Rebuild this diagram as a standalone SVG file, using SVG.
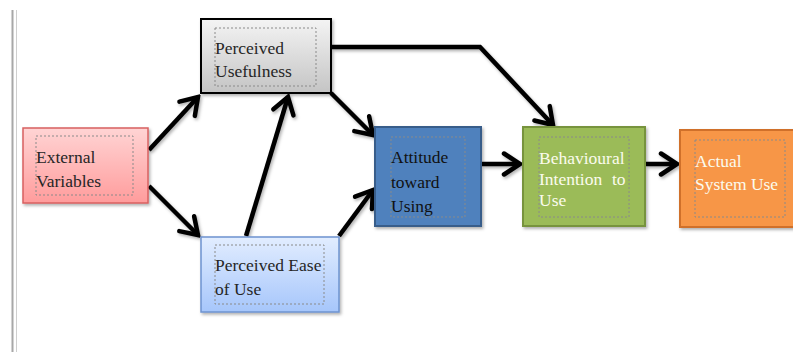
<svg xmlns="http://www.w3.org/2000/svg" width="793" height="352" viewBox="0 0 793 352">
<style>
.t{font-family:"Liberation Serif","Times New Roman",serif;font-size:17.5px;fill:#262626}
.w{fill:#fbfbee}
.in{fill:none;stroke:#8a8a8a;stroke-width:1;stroke-dasharray:2,2}
.c{fill:none;stroke:#000;stroke-width:4.5;stroke-linejoin:miter;marker-end:url(#ah)}
</style>
<defs>
<linearGradient id="gPU" x1="0" y1="0" x2="0" y2="1"><stop offset="0" stop-color="#f4f4f4"/><stop offset="1" stop-color="#c4c4c4"/></linearGradient>
<linearGradient id="gEV" x1="0" y1="0" x2="0" y2="1"><stop offset="0" stop-color="#ffd4d4"/><stop offset="1" stop-color="#ff9c9c"/></linearGradient>
<linearGradient id="gPE" x1="0" y1="0" x2="0" y2="1"><stop offset="0" stop-color="#e2edff"/><stop offset="1" stop-color="#a6c6fb"/></linearGradient>
<filter id="sh" x="-10%" y="-10%" width="130%" height="130%"><feDropShadow dx="1.5" dy="2" stdDeviation="1.5" flood-color="#000" flood-opacity="0.3"/></filter>
<marker id="ah" viewBox="0 0 22 26" refX="19" refY="13" markerWidth="22" markerHeight="26" markerUnits="userSpaceOnUse" orient="auto"><path d="M3,2.5 L19,13 L3,23.5" fill="none" stroke="#000" stroke-width="4.5" stroke-linecap="round" stroke-linejoin="miter"/></marker>
</defs>
<rect width="793" height="352" fill="#fff"/>
<line x1="12.5" y1="10" x2="12.5" y2="352" stroke="#a8a8a8" stroke-width="2"/>
<line x1="16.5" y1="10" x2="16.5" y2="352" stroke="#cfcfcf" stroke-width="1"/>

<g id="connectors" filter="url(#sh)">
<path class="c" d="M149,150 L198,97"/>
<path class="c" d="M149,186 L198,235"/>
<path class="c" d="M246,236 L288,97"/>
<path class="c" d="M331,93 L373,135"/>
<path class="c" d="M339,236 L373,190"/>
<path class="c" d="M332,47 L480,47 L553,125"/>
<path class="c" d="M482,164 L520,164"/>
<path class="c" d="M646,164 L677,164"/>
</g>

<g id="external-variables">
<rect x="23" y="128" width="125" height="75" fill="url(#gEV)" stroke="#d86060" stroke-width="1.5" filter="url(#sh)"/>
<rect class="in" x="36" y="136" width="97" height="59"/>
<text class="t" x="36" y="163">External</text>
<text class="t" x="36" y="187">Variables</text>
</g>

<g id="perceived-usefulness">
<rect x="201" y="19" width="130" height="74" fill="url(#gPU)" stroke="#000" stroke-width="2" filter="url(#sh)"/>
<rect class="in" x="215" y="28" width="101" height="58"/>
<text class="t" x="215" y="54">Perceived</text>
<text class="t" x="215" y="77">Usefulness</text>
</g>

<g id="perceived-ease-of-use">
<rect x="201" y="237" width="138" height="75" fill="url(#gPE)" stroke="#6d93cf" stroke-width="1.5" filter="url(#sh)"/>
<rect class="in" x="215" y="245" width="109" height="59"/>
<text class="t" x="215" y="271">Perceived Ease</text>
<text class="t" x="215" y="295">of Use</text>
</g>

<g id="attitude-toward-using">
<rect x="375" y="127" width="106" height="99" fill="#4f81bd" stroke="#385d8a" stroke-width="2" filter="url(#sh)"/>
<rect class="in" x="391" y="137" width="74" height="80"/>
<text class="t" x="391" y="163" style="fill:#111">Attitude</text>
<text class="t" x="391" y="188" style="fill:#111">toward</text>
<text class="t" x="391" y="212" style="fill:#111">Using</text>
</g>

<g id="behavioural-intention">
<rect x="523" y="127" width="122" height="99" fill="#9bbb59" stroke="#77933c" stroke-width="2" filter="url(#sh)"/>
<rect class="in" x="539" y="137" width="90" height="80"/>
<text class="t w" x="539" y="164">Behavioural</text>
<text class="t w" x="539" y="185"><tspan x="539">Intention </tspan><tspan x="612">to</tspan></text>
<text class="t w" x="539" y="206">Use</text>
</g>

<g id="actual-system-use">
<rect x="680" y="130" width="116" height="97" fill="#f79646" stroke="#d0702c" stroke-width="2" filter="url(#sh)"/>
<rect class="in" x="695" y="140" width="90" height="77"/>
<text class="t w" x="695" y="167">Actual</text>
<text class="t w" x="695" y="190">System Use</text>
</g>
</svg>
